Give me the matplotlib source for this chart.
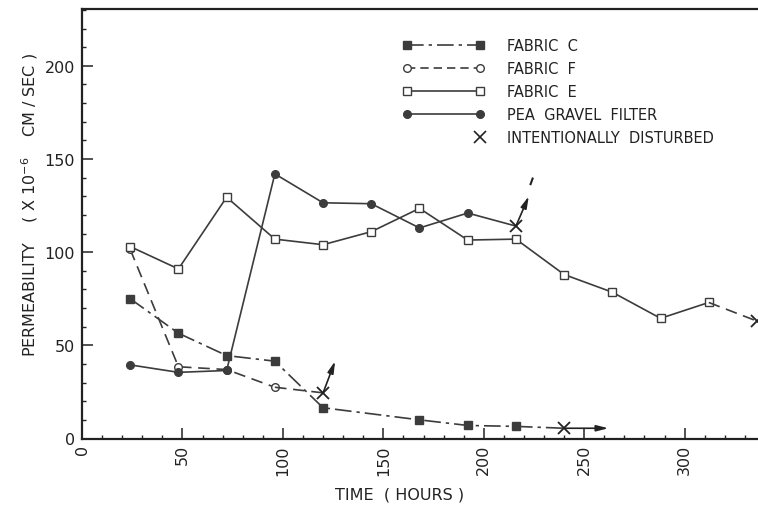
import matplotlib
matplotlib.use("Agg")
import matplotlib.pyplot as plt
from matplotlib.lines import Line2D
from matplotlib.ticker import MultipleLocator

# ---- data (hours, permeability x10^-6 cm/sec) ----
fabric_c_x = [24, 48, 72, 96, 120, 168, 192, 216, 240]
fabric_c_y = [75, 56.5, 44.5, 41.5, 16.5, 10, 7, 6.5, 5.5]

fabric_f_x = [24, 48, 72, 96, 120]
fabric_f_y = [101.5, 38.5, 37, 27.5, 24.5]

fabric_e_x = [24, 48, 72, 96, 120, 144, 168, 192, 216, 240, 264, 288, 312, 336]
fabric_e_y = [103, 91, 129.5, 107, 104, 111, 123.5, 106.5, 107, 88, 78.5, 64.5, 73, 63]

pea_x = [24, 48, 72, 96, 120, 144, 168, 192, 216]
pea_y = [39.5, 35.5, 36.5, 142, 126.5, 126, 113, 121, 114]

# intentionally disturbed points and arrow tips
dist_x = [120, 216, 240, 336]
dist_y = [24.5, 114, 5.5, 63]
arrow_tip_x = [126, 222.4, 262]
arrow_tip_y = [41.5, 130, 5.5]

xticks = [0, 50, 100, 150, 200, 250, 300]
yticks = [0, 50, 100, 150, 200]

col = "#3c3c3c"

fig = plt.figure(figsize=(7.58, 5.06), dpi=100)
ax = fig.add_axes([82/758, 1-439.5/506, 1-82/758, (439.5-10)/506])

lw = 1.2
ms = 5.5
# Fabric C : filled squares, dash-dot
ax.plot(fabric_c_x[:-1], fabric_c_y[:-1], color=col, lw=lw, ls=(0, (10, 3, 2, 3)),
        marker='s', ms=ms, mfc=col, mec=col)
ax.plot(fabric_c_x[-2:], fabric_c_y[-2:], color=col, lw=lw, ls=(0, (10, 3, 2, 3)))
# Fabric F : open circles, dashed
ax.plot(fabric_f_x[:-1], fabric_f_y[:-1], color=col, lw=lw, ls=(0, (7, 4)),
        marker='o', ms=ms, mfc='white', mec=col)
ax.plot(fabric_f_x[-2:], fabric_f_y[-2:], color=col, lw=lw, ls=(0, (7, 4)))
# Fabric E : open squares, solid
ax.plot(fabric_e_x[:-1], fabric_e_y[:-1], color=col, lw=lw, ls='-',
        marker='s', ms=ms, mfc='white', mec=col)
ax.plot(fabric_e_x[-2:], fabric_e_y[-2:], color=col, lw=lw, ls=(0, (7, 4)))
# Pea gravel filter : filled circles, solid
ax.plot(pea_x[:-1], pea_y[:-1], color=col, lw=lw, ls='-',
        marker='o', ms=ms, mfc=col, mec=col)
ax.plot(pea_x[-2:], pea_y[-2:], color=col, lw=lw, ls='-')

# disturbed markers
ax.plot(dist_x, dist_y, ls='none', marker='x', ms=9, mew=1.3, color='#222222', clip_on=False)
for sx, sy, tx, ty in zip(dist_x, dist_y, arrow_tip_x, arrow_tip_y):
    ax.annotate('', xy=(tx, ty), xytext=(sx, sy),
                arrowprops=dict(arrowstyle='-|>,head_length=0.7,head_width=0.18',
                                color='#222222', lw=1.2, shrinkA=0, shrinkB=0))
ax.plot([223.3, 224.3], [136.5, 139.5], color='#222222', lw=1.5)

ax.set_xlim(0, 336.5)
ax.set_ylim(0, 230.5)
ax.set_xticks(xticks)
ax.set_yticks(yticks)
ax.xaxis.set_minor_locator(MultipleLocator(10))
ax.yaxis.set_minor_locator(MultipleLocator(10))
ax.tick_params(which='major', direction='in', length=8, width=1.1, color='#222222',
               labelsize=11.5, labelcolor='#222222')
ax.tick_params(which='minor', direction='in', length=3, width=1.0, color='#222222')
ax.tick_params(axis='x', labelrotation=90, pad=4)
ax.tick_params(axis='y', pad=5)
for s in ['left', 'bottom', 'top']:
    ax.spines[s].set_linewidth(1.6)
    ax.spines[s].set_color('#222222')
ax.spines['right'].set_visible(False)

fig.text(400/758, 1-495/506, "TIME  ( HOURS )", ha='center', va='center',
         fontsize=11.5, color='#222222')
fig.text(30/758, 1-205/506, r"PERMEABILITY    ( X 10$^{-6}$    CM / SEC )", ha='center', va='center',
         rotation=90, fontsize=11.5, color='#222222')


# legend
class RightX:
    def legend_artist(self, legend, orig_handle, fontsize, handlebox):
        xd, yd = handlebox.xdescent, handlebox.ydescent
        w, h = handlebox.width, handlebox.height
        ln = Line2D([w - xd - 0.3 * fontsize], [(h - yd) / 2.0], ls='none', marker='x',
                    ms=orig_handle.get_markersize(), mew=orig_handle.get_markeredgewidth(),
                    color=orig_handle.get_color(), transform=handlebox.get_transform())
        handlebox.add_artist(ln)
        return ln


h_c = Line2D([], [], color=col, lw=lw, ls=(0, (10, 3, 2, 3)), marker='s', ms=ms, mfc=col, mec=col)
h_f = Line2D([], [], color=col, lw=lw, ls=(0, (5, 3)), marker='o', ms=ms, mfc='white', mec=col)
h_e = Line2D([], [], color=col, lw=lw, ls='-', marker='s', ms=ms, mfc='white', mec=col)
h_p = Line2D([], [], color=col, lw=lw, ls='-', marker='o', ms=ms, mfc=col, mec=col)
h_x = Line2D([], [], ls='none', marker='x', ms=8, mew=1.2, color='#222222')
leg = ax.legend([h_c, h_f, h_e, h_p, h_x],
                ["FABRIC  C", "FABRIC  F", "FABRIC  E", "PEA  GRAVEL  FILTER",
                 "INTENTIONALLY  DISTURBED"],
                handler_map={h_x: RightX()},
                numpoints=2, frameon=False, fontsize=10.5, handlelength=5.6,
                handletextpad=1.5, labelspacing=0.55, borderpad=0, borderaxespad=0,
                loc='upper left', bbox_to_anchor=(403/758, 1-39/506),
                bbox_transform=fig.transFigure)
for t in leg.get_texts():
    t.set_color('#222222')

fig.savefig("out.png", dpi=100)
